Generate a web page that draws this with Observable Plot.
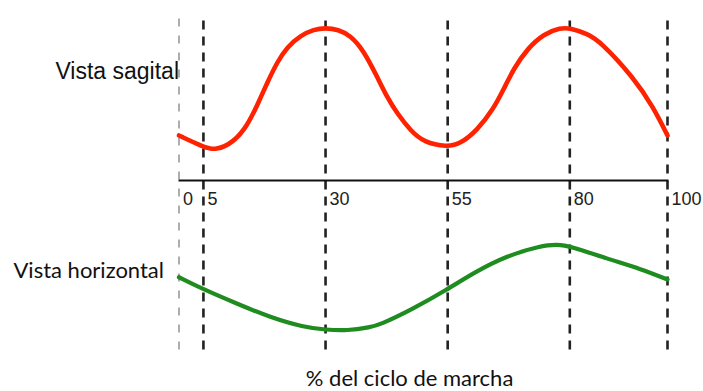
<!DOCTYPE html>
<html>
<head>
<meta charset="utf-8">
<script src="https://cdn.jsdelivr.net/npm/d3@7"></script>
<script src="https://cdn.jsdelivr.net/npm/@observablehq/plot@0.6"></script>
<style>
  html, body { margin: 0; padding: 0; background: #fff; }
  svg { display: block; }
</style>
</head>
<body>
<script>
// % of gait cycle (x) and displacement readings (arbitrary units, axis line = 0)
const sagitalPct = [0, 5.1, 7.5, 11.2, 14.0, 16.0, 18.1, 20.1, 22.1, 24.9, 27.6, 30.0, 32.6, 35.1, 37.8, 40.6, 42.6, 44.7, 47.4, 50.1, 54.9, 57.6, 61.0, 64.4, 66.5, 68.5, 71.3, 74.7, 78.1, 80.1, 83.6, 86.3, 93.0, 97.1, 100];
const sagitalVal = [30, 22.2, 20, 25.5, 36.7, 50, 65.5, 78.9, 88.9, 96.7, 100.7, 101.8, 100.6, 96.7, 86.7, 68.9, 55.5, 44.5, 33.3, 25.5, 22.3, 24.5, 33.3, 47.8, 61.1, 74.5, 87.8, 97.8, 101.8, 101.6, 97.8, 92.5, 68.9, 48.9, 30];

const horizontalPct = [0, 4.6, 11.9, 18.7, 25.5, 30.0, 34.4, 39.2, 41.2, 47.4, 55.0, 60.3, 67.2, 74.0, 77.4, 80.1, 87.7, 94.5, 100];
const horizontalVal = [-64.5, -72, -82.2, -91.3, -97.8, -99.5, -100.2, -97.8, -96, -86.5, -72.5, -61.5, -50, -43.6, -42.5, -43.8, -52.2, -58.9, -66];

const phaseMarks = [5, 30, 55, 80, 100];
const tickLabels = ["0", "5", "30", "55", "80", "100"];
const tickValues = [0, 5, 30, 55, 80, 100];

const seriesLabels = ["Vista sagital", "Vista horizontal"];
const xTitle = "% del ciclo de marcha";

const sagital = sagitalPct.map((p, i) => ({pct: p, v: sagitalVal[i]}));
const horizontal = horizontalPct.map((p, i) => ({pct: p, v: horizontalVal[i]}));
const ticks = tickValues.map((t, i) => ({t, label: tickLabels[i]}));

const arial = "'Liberation Sans', Arial, sans-serif";
const calib = "Lato, 'Open Sans', sans-serif";

const chart = Plot.plot({
  width: 703,
  height: 391,
  marginLeft: 178.5,
  marginRight: 36,
  marginTop: 0,
  marginBottom: 46,
  x: {domain: [0, 100], axis: null},
  y: {domain: [-110, 120], axis: null},
  style: {background: "white", overflow: "visible"},
  marks: [
    Plot.ruleX([0], {y1: -113, y2: 110.7, stroke: "#777", strokeWidth: 1.2, strokeDasharray: "8,9"}),
    Plot.ruleX(phaseMarks, {y1: -113, y2: 110.7, stroke: "#222", strokeWidth: 2.6, strokeDasharray: "9,7"}),
    Plot.ruleY([0], {x1: 0, x2: 100.3, stroke: "#111", strokeWidth: 2}),
    Plot.line(sagital, {x: "pct", y: "v", stroke: "#ff2200", strokeWidth: 4.6, curve: "basis"}),
    Plot.line(horizontal, {x: "pct", y: "v", stroke: "#1e8c1e", strokeWidth: 4.2, curve: "basis"}),
    Plot.text(ticks, {x: "t", y: -12.3, text: "label", textAnchor: "start", dx: 4, fontSize: 18, fontFamily: arial, fill: "#222"}),
    Plot.text([seriesLabels[0]], {x: 0, y: 72.5, text: d => d, textAnchor: "end", dx: 0, fontSize: 23, fontFamily: arial, fill: "#111"}),
    Plot.text([seriesLabels[1]], {x: 0, y: -60.2, text: d => d, textAnchor: "end", dx: -15, fontSize: 22, fontFamily: calib, fill: "#111"}),
    Plot.text([xTitle], {x: 47.2, y: -132, text: d => d, textAnchor: "middle", fontSize: 22, fontFamily: calib, fill: "#111"})
  ]
});
document.body.appendChild(chart);
</script>
</body>
</html>
